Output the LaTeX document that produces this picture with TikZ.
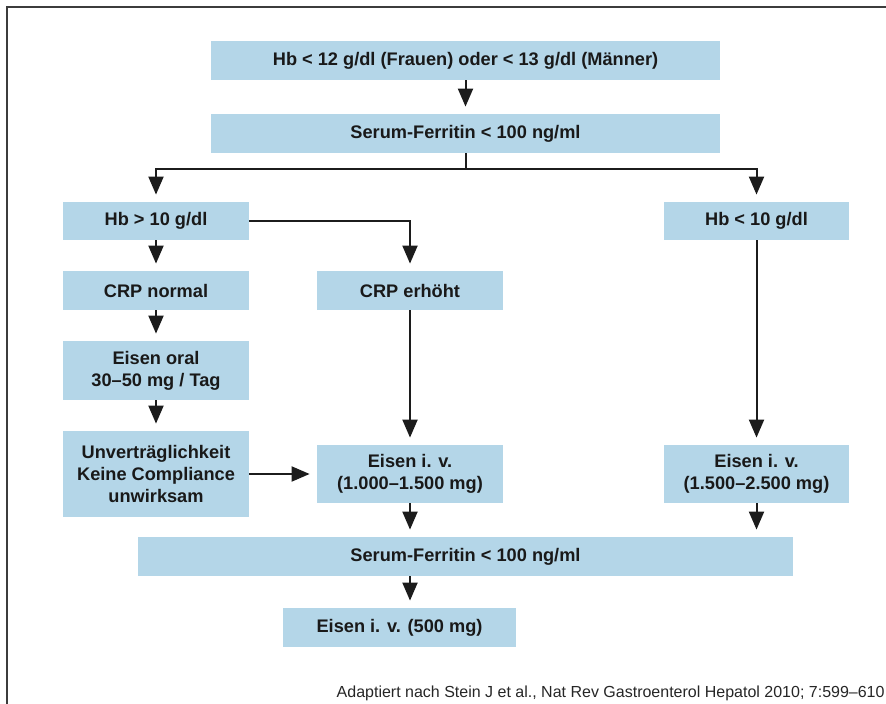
\documentclass[tikz,border=0pt]{standalone}
\usepackage{fontspec}
\setmainfont{Liberation Sans}
\usepackage{tikz}
\definecolor{boxblue}{RGB}{180,214,232}
\definecolor{linegray}{RGB}{28,28,28}
\definecolor{framegray}{RGB}{60,60,60}
\usetikzlibrary{arrows.meta}
\usetikzlibrary{positioning}

\begin{document}
\begin{tikzpicture}[x=0.5pt,y=-0.5pt,
  box/.style={fill=boxblue, inner sep=0pt, align=center, minimum width=93pt,
    font=\bfseries\fontsize{9.1}{10.9}\selectfont, text=black!90},
  arr/.style={draw=linegray, line width=1pt, -{Triangle[width=7.5pt,length=9pt]}, shorten >=3.5pt},
  plain/.style={draw=linegray, line width=1pt}]

\useasboundingbox (0,0) rectangle (886,704);

% frame
\draw[framegray, line width=0.8pt] (886,7) -- (7,7) -- (7,704);

% top
  \node[box, minimum width=254.5pt, minimum height=19.5pt] (hbstart) at (465.5,60.5) {Hb < 12 g/dl (Frauen) oder < 13 g/dl (Männer)};
  \node[box, minimum width=254.5pt, minimum height=19.5pt] (ferrone) at (465.5,133.5) {Serum-Ferritin < 100 ng/ml};
  \coordinate (fork) at (465.5,169);

% left column
  \node[box, minimum height=19pt] (hbhigh) at (156,221) {Hb > 10 g/dl};
  \node[box, minimum height=19.5pt] (crpnorm) at (156,290.5) {CRP normal};
  \node[box, minimum height=29.5pt] (oral) at (156,370.5) {Eisen oral\\30–50 mg / Tag};
  \node[box, minimum height=43pt] (fail) at (156,474) {Unverträglichkeit\\Keine Compliance\\unwirksam};

% middle column
  \node[box, minimum height=19.5pt] (crphigh) at (410,290.5) {CRP erhöht};
  \node[box, minimum height=29pt] (ivone) at (410,474) {Eisen i. v.\\(1.000–1.500 mg)};

% right column
  \node[box, minimum width=92.5pt, minimum height=19pt] (hblow) at (756.5,221) {Hb < 10 g/dl};
  \node[box, minimum width=92.5pt, minimum height=29pt] (ivtwo) at (756.5,474) {Eisen i. v.\\(1.500–2.500 mg)};

% bottom
  \node[box, minimum width=327.5pt, minimum height=19.5pt] (ferrtwo) at (465.5,556.5) {Serum-Ferritin < 100 ng/ml};
  \node[box, minimum width=116.5pt, minimum height=19.5pt] (ivlast) at (399.5,627.5) {Eisen i. v. (500 mg)};

  \node[anchor=base east, inner sep=0pt, font=\fontsize{8}{9.5}\selectfont, text=black!85] (source) at (885,697) {Adaptiert nach Stein J et al., Nat Rev Gastroenterol Hepatol 2010; 7:599–610};

% connectors
  \draw[arr] (hbstart.south) -- (ferrone.north);
  \draw[plain] (ferrone.south) -- (fork);
  \draw[arr] (fork) -| (hbhigh.north);
  \draw[arr] (fork) -| (hblow.north);
  \draw[arr] (hbhigh.east) -| (crphigh.north);
  \draw[arr] (hbhigh.south) -- (crpnorm.north);
  \draw[arr] (crpnorm.south) -- (oral.north);
  \draw[arr] (oral.south) -- (fail.north);
  \draw[arr] (fail.east) -- (ivone.west);
  \draw[arr] (crphigh.south) -- (ivone.north);
  \draw[arr] (hblow.south) -- (ivtwo.north);
  \draw[arr] (ivone.south) -- (ivone.south |- ferrtwo.north);
  \draw[arr] (ivtwo.south) -- (ivtwo.south |- ferrtwo.north);
  \draw[arr] (ferrtwo.south -| ivone.south) -- (ivlast.north -| ivone.south);

\end{tikzpicture}
\end{document}
